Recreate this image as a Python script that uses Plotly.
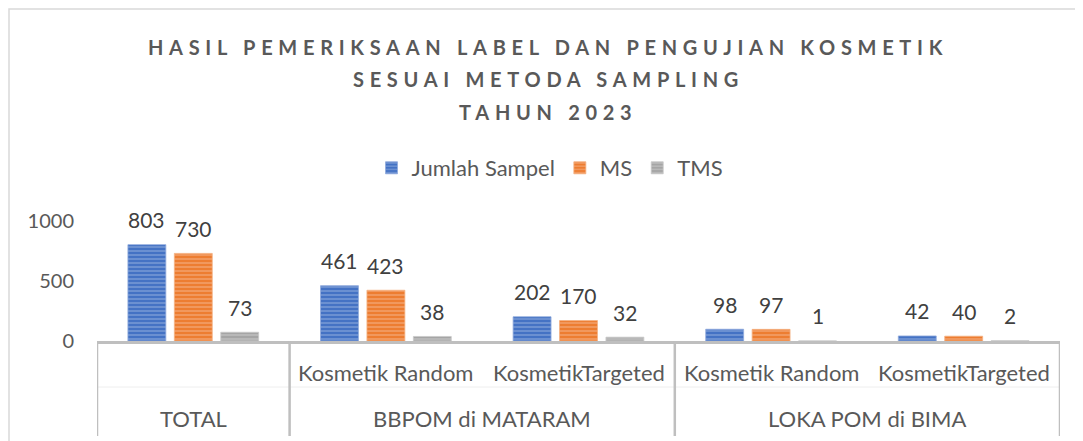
import plotly.graph_objects as go

# ---- data ----
groups = ["TOTAL", "BBPOM di MATARAM", "BBPOM di MATARAM", "LOKA POM di BIMA", "LOKA POM di BIMA"]
subcats = ["", "Kosmetik Random", "KosmetikTargeted", "Kosmetik Random", "KosmetikTargeted"]
series_names = ["Jumlah Sampel", "MS", "TMS"]
jumlah_sampel = [803, 461, 202, 98, 42]
ms = [730, 423, 170, 97, 40]
tms = [73, 38, 32, 1, 2]
title_lines = ["HASIL PEMERIKSAAN LABEL DAN PENGUJIAN KOSMETIK", "SESUAI METODA SAMPLING", "TAHUN 2023"]
y_ticks = [0, 500, 1000]

series_values = [jumlah_sampel, ms, tms]
colors = ["#4472C4", "#ED7D31", "#A5A5A5"]
stripe = ["#B4C7E7", "#F8CBAD", "#DBDBDB"]
edge = ["#8FAADC", "#F4B183", "#C9C9C9"]

FONT = "Lato"
TXT = "#595959"
OFF = 8  # page offset of the figure inside the browser window
W, H = 1083, 441
scr_left, scr_right, scr_top, scr_base = 97, 1060, 201, 341
L = scr_left - OFF
R = W - (scr_right - OFF)
T = scr_top - OFF
B = H - (scr_base - OFF)
plot_h = H - T - B
plot_w = W - L - R

def py(ypx):
    """screen pixel y -> paper y"""
    return (scr_base - ypx) / plot_h

def px(xpx):
    return (xpx - scr_left) / plot_w

bargap = 0.277
bargroupgap = 0.183
x = list(range(len(groups)))

fig = go.Figure()
for k, (name, vals) in enumerate(zip(series_names, series_values)):
    fig.add_trace(go.Bar(
        x=x, y=vals, name=name,
        marker=dict(color=colors[k],
                    line=dict(color=edge[k], width=0.8),
                    pattern=dict(shape="-", fgcolor=stripe[k], size=4, solidity=0.35)),
    ))

# data labels
n = len(series_names)
slot = (1 - bargap) / n
annotations = []
for k, vals in enumerate(series_values):
    off = (k - (n - 1) / 2) * slot
    for i, v in enumerate(vals):
        annotations.append(dict(x=i + off, y=v, xref="x", yref="y", text=str(v),
                                showarrow=False, yanchor="middle", yshift=25,
                                font=dict(family=FONT, size=21, color="#404040")))

# category table labels
for i, s in enumerate(subcats):
    if s:
        annotations.append(dict(x=i, y=py(372), xref="x", yref="paper", text=s, showarrow=False,
                                yanchor="middle", font=dict(family=FONT, size=22, color=TXT)))
seen = []
for g in groups:
    if g not in seen:
        seen.append(g)
for g in seen:
    idx = [i for i, gg in enumerate(groups) if gg == g]
    annotations.append(dict(x=sum(idx) / len(idx), y=py(418), xref="x", yref="paper", text=g,
                            showarrow=False, yanchor="middle",
                            font=dict(family=FONT, size=22, color=TXT)))

# title lines
for j, (line, ypx) in enumerate(zip(title_lines, [47, 79, 112])):
    annotations.append(dict(x=px(548), y=py(ypx), xref="paper", yref="paper",
                            text='<span style="letter-spacing:5.7px">' + line + '</span>',
                            showarrow=False, yanchor="middle", xanchor="center",
                            font=dict(family=FONT, size=20, color=TXT, weight="bold")))

shapes = []
# outer chart border
shapes.append(dict(type="rect", xref="paper", yref="paper", x0=px(9), x1=px(1100), y0=py(470), y1=py(9),
                   line=dict(color="#D9D9D9", width=1.5), fillcolor="rgba(0,0,0,0)", layer="below"))
# group boundaries in the category table
bounds = [-0.5]
for i in range(1, len(groups)):
    if groups[i] != groups[i - 1]:
        bounds.append(i - 0.5)
bounds.append(len(groups) - 0.5)
for b in bounds:
    shapes.append(dict(type="line", xref="x", yref="paper", x0=b, x1=b, y0=0, y1=py(436),
                       line=dict(color="#BFBFBF", width=2.5)))
# faint row separator
shapes.append(dict(type="line", xref="x", yref="paper", x0=-0.5, x1=len(groups) - 0.5,
                   y0=py(387), y1=py(387), line=dict(color="#EEEEEE", width=1), layer="below"))

fig.update_layout(
    width=W, height=H,
    margin=dict(l=L, r=R, t=T, b=B, pad=0, autoexpand=False),
    paper_bgcolor="white", plot_bgcolor="white",
    barmode="group", bargap=bargap, bargroupgap=bargroupgap,
    font=dict(family=FONT, color=TXT, size=20),
    showlegend=True,
    legend=dict(orientation="h", xref="container", yref="container", x=(550 - OFF) / W, y=1 - (168 - OFF) / H,
                xanchor="center", yanchor="middle", font=dict(family=FONT, size=22, color=TXT),
                itemwidth=30, tracegroupgap=0),
    annotations=annotations, shapes=shapes,
    xaxis=dict(range=[-0.5, len(groups) - 0.5], showticklabels=False, showgrid=False, zeroline=False,
               showline=True, linecolor="#BFBFBF", linewidth=2.5, ticks=""),
    yaxis=dict(range=[0, plot_h / 0.12], tickvals=y_ticks, showgrid=False, zeroline=False, showline=False,
               ticks="", ticklabelstandoff=22, tickfont=dict(family=FONT, size=20, color=TXT)),
)

fig.write_html("out.html")
